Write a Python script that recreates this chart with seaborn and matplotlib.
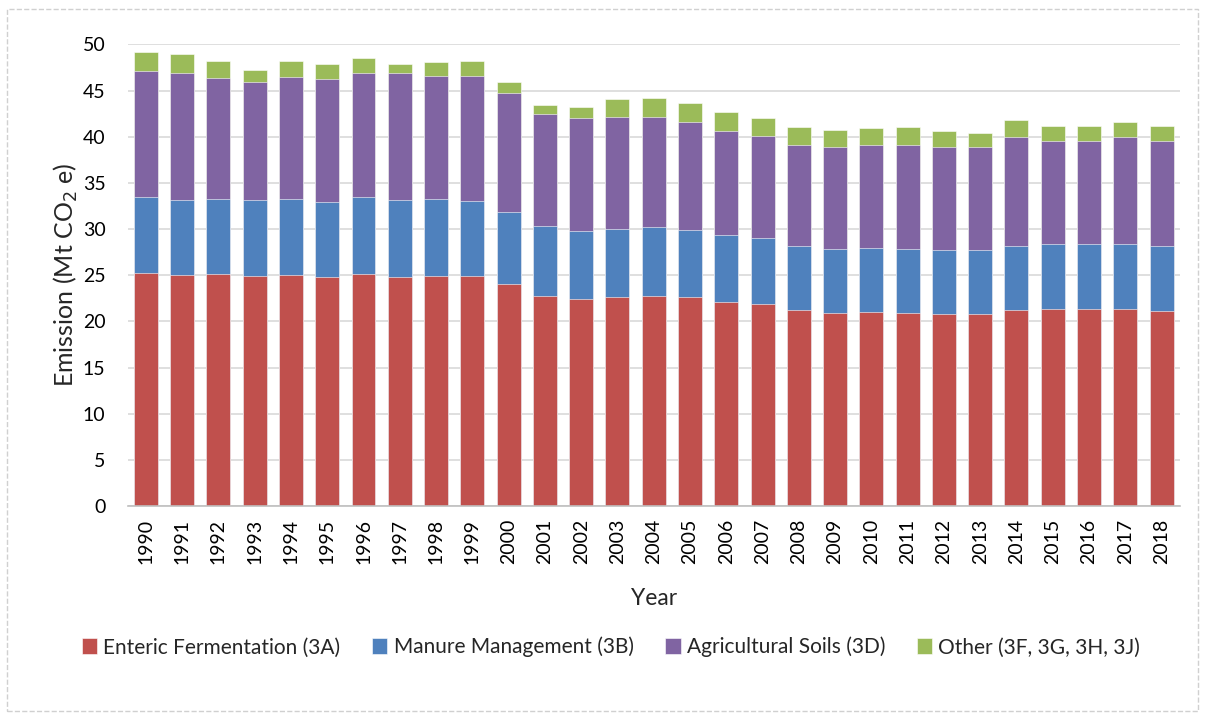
import numpy as np
import pandas as pd
import seaborn as sns
import matplotlib.pyplot as plt
from matplotlib.patches import Rectangle

years = [str(y) for y in range(1990, 2019)]
enteric = [25.3, 25.0, 25.1, 24.9, 25.0, 24.8, 25.1, 24.85, 24.9, 24.9,
           24.1, 22.8, 22.4, 22.6, 22.8, 22.6, 22.1, 21.9, 21.2, 20.9,
           21.05, 20.9, 20.8, 20.8, 21.2, 21.3, 21.3, 21.4, 21.1]
manure = [8.2, 8.2, 8.15, 8.3, 8.3, 8.1, 8.35, 8.35, 8.4, 8.1,
          7.8, 7.5, 7.35, 7.4, 7.46, 7.35, 7.25, 7.1, 7.0, 6.9,
          6.95, 6.9, 6.95, 6.95, 7.0, 7.1, 7.1, 7.0, 7.05]
soils = [13.6, 13.7, 13.1, 12.75, 13.15, 13.4, 13.45, 13.7, 13.3, 13.6,
         12.8, 12.15, 12.3, 12.15, 11.9, 11.65, 11.25, 11.1, 10.95, 11.1,
         11.15, 11.25, 11.15, 11.15, 11.75, 11.15, 11.15, 11.55, 11.4]
other = [2.1, 2.0, 1.85, 1.25, 1.7, 1.6, 1.65, 1.0, 1.5, 1.55,
         1.2, 1.0, 1.15, 1.95, 2.0, 2.0, 2.05, 1.95, 1.95, 1.85,
         1.8, 1.95, 1.7, 1.55, 1.85, 1.6, 1.65, 1.6, 1.6]

labels = ['Enteric Fermentation (3A)', 'Manure Management (3B)',
          'Agricultural Soils (3D)', 'Other (3F, 3G, 3H, 3J)']
colors = ['#C0504D', '#4F81BD', '#8064A2', '#9BBB59']

df = pd.DataFrame({'Year': years, labels[0]: enteric, labels[1]: manure,
                   labels[2]: soils, labels[3]: other})
# cumulative tops, drawn back to front so each layer covers the next
cum = df[labels].cumsum(axis=1)

sns.set_style('white')
plt.rcParams['font.family'] = ['Lato', 'DejaVu Sans']

fig = plt.figure(figsize=(12.05, 7.15), dpi=100)
ax = fig.add_axes([0.106, 0.292, 0.873, 0.646])

for i in range(3, -1, -1):
    sns.barplot(x=df['Year'], y=cum[labels[i]], color=colors[i], ax=ax,
                width=0.66, edgecolor='#ffffff', linewidth=0.4, saturation=1,
                label=labels[i], zorder=3)
handles, lbls = ax.get_legend_handles_labels()
if ax.get_legend() is not None:
    ax.get_legend().remove()

ax.set_ylim(0, 50)
ax.set_xlim(-0.5, len(years) - 0.5)
ax.set_yticks(range(0, 51, 5))
ax.grid(axis='y', color='#D9D9D9', linewidth=1.2, zorder=0)
ax.set_axisbelow(True)
for s in ['top', 'right', 'left']:
    ax.spines[s].set_visible(False)
ax.spines['bottom'].set_color('#BFBFBF')
ax.spines['bottom'].set_linewidth(1.2)
ax.spines['bottom'].set_zorder(4)

ax.tick_params(axis='y', length=0, pad=16, labelsize=14, labelcolor='#000000')
ax.tick_params(axis='x', which='major', length=0, pad=9, labelsize=14,
               labelcolor='#000000', rotation=90)
ax.set_xticks(np.arange(-0.5, len(years), 1.0), minor=True)
ax.tick_params(axis='x', which='minor', length=4, color='#BFBFBF', width=1)

ax.set_xlabel('Year', fontsize=16.5, labelpad=17)
ax.set_ylabel('Emission (Mt CO$_2$ e)', fontsize=18, labelpad=2)

order = [lbls.index(l) for l in labels]
fig.legend([handles[i] for i in order], [lbls[i] for i in order],
           loc='center', bbox_to_anchor=(0.507, 0.095), ncol=4, frameon=False,
           fontsize=15, handlelength=0.75, handleheight=0.75,
           handletextpad=0.3, columnspacing=1.5)

fig.patches.append(Rectangle((0.006, 0.006), 0.988, 0.982, transform=fig.transFigure,
                             fill=False, edgecolor='#D0D0D0', linestyle='--',
                             linewidth=1))

fig.savefig('out.png', dpi=100)
